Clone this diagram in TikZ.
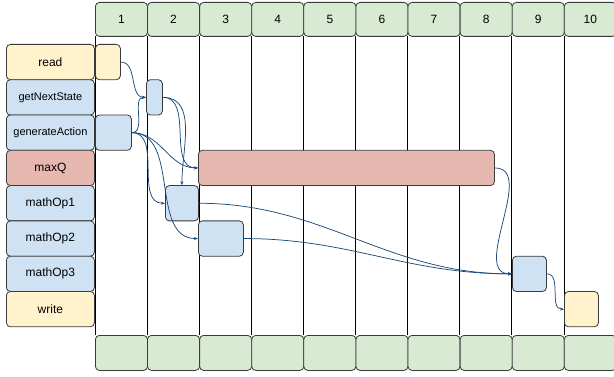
\documentclass[tikz,border=0pt]{standalone}
\usepackage{fontspec}
\setmainfont{Liberation Sans}
\usetikzlibrary{arrows.meta}
\definecolor{hdrgreen}{HTML}{D9EAD3}
\definecolor{taskblue}{HTML}{CFE2F3}
\definecolor{taskred}{HTML}{E6B8AF}
\definecolor{taskyellow}{HTML}{FFF2CC}
\definecolor{edgeblue}{HTML}{1C4A7A}
\definecolor{boxline}{HTML}{3A3A3A}

\begin{document}
\begin{tikzpicture}[x=1pt, y=1pt, font=\fontsize{12}{14}\selectfont,
  cell/.style={draw=boxline, line width=0.8pt, rounded corners=4pt, inner sep=0pt, anchor=north west},
  flow/.style={edgeblue, line width=0.75pt, -{Stealth[length=4pt,width=3pt]}}]
  \useasboundingbox (0,0) rectangle (614,-377); % page size

  % Column lines
  \foreach \c in {0,...,9} {
    \draw[line width=0.8pt] ({95+52.1*\c},-36) -- ({95+52.1*\c},-335);
  }
  % Step numbers on top, empty cells at the bottom
  \foreach \c in {1,...,10} {
    \node[cell, fill=hdrgreen, minimum width=52.1pt, minimum height=34pt] (head\c) at ({95+52.1*(\c-1)},-2) {\c};
    \node[cell, fill=hdrgreen, minimum width=52.1pt, minimum height=35pt] (foot\c) at ({95+52.1*(\c-1)},-335) {};
  }

  % Row names
  \foreach \name/\col/\sz [count=\r from 0] in {read/taskyellow/12, getNextState/taskblue/11,
      generateAction/taskblue/11, maxQ/taskred/12, mathOp1/taskblue/12, mathOp2/taskblue/12,
      mathOp3/taskblue/12, write/taskyellow/12} {
    \node[cell, fill=\col, minimum width=88pt, minimum height=35.3pt, font=\fontsize{\sz}{14}\selectfont]
      (row\r) at (6,{-(44+35.3*\r)}) {\name};
  }

  % Tasks
  \node[cell, fill=taskyellow, minimum width=25pt, minimum height=35.3pt] (tRead) at (95,-44) {};
  \node[cell, fill=taskblue, minimum width=16pt, minimum height=35.3pt] (tNext) at (146,-79.3) {};
  \node[cell, fill=taskblue, minimum width=36pt, minimum height=35.3pt] (tGen) at (95,-114.6) {};
  \node[cell, fill=taskred, minimum width=296pt, minimum height=35.3pt] (tMaxQ) at (198,-149.9) {};
  \node[cell, fill=taskblue, minimum width=33pt, minimum height=35.3pt] (tOp1) at (165,-185.2) {};
  \node[cell, fill=taskblue, minimum width=45pt, minimum height=35.3pt] (tOp2) at (198,-220.5) {};
  \node[cell, fill=taskblue, minimum width=34pt, minimum height=35.3pt] (tOp3) at (512,-255.8) {};
  \node[cell, fill=taskyellow, minimum width=34pt, minimum height=35.3pt] (tWrite) at (564,-291.1) {};

  % Dependencies
  \draw[flow] (tRead.east) to[out=0, in=180] (tNext.west);
  \draw[flow] (tGen.east) to[out=0, in=180] (tNext.west);
  \draw[flow] (tNext.east) to[out=0, in=180] (tMaxQ.west);
  \draw[flow] (tNext.east) to[out=0, in=90] (tOp1.north);
  \draw[flow] (tGen.east) to[out=0, in=180] (tMaxQ.west);
  \draw[flow] (tGen.east) to[out=0, in=180] (tOp1.west);
  \draw[flow] (tGen.east) to[out=0, in=180] (tOp2.west);
  \draw[flow] (tMaxQ.east) to[out=0, in=180] (tOp3.west);
  \draw[flow] (tOp1.east) to[out=0, in=180] (tOp3.west);
  \draw[flow] (tOp2.east) to[out=0, in=180] (tOp3.west);
  \draw[flow] (tOp3.east) to[out=0, in=180] (tWrite.west);
\end{tikzpicture}
\end{document}
